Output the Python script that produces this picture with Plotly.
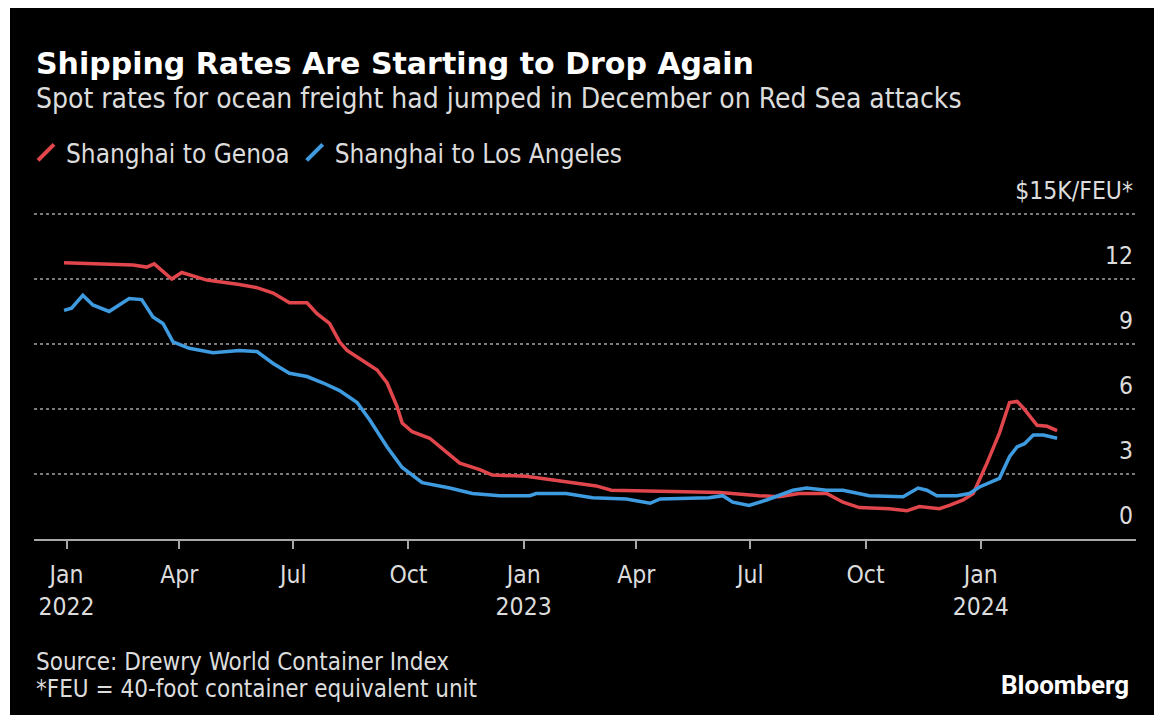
import plotly.graph_objects as go

# ---- data ($K per FEU) ----
genoa_dates = [
    "2021-12-30", "2022-02-23", "2022-03-06", "2022-03-12", "2022-03-26", "2022-04-03",
    "2022-04-23", "2022-05-19", "2022-06-02", "2022-06-15", "2022-06-28", "2022-07-12",
    "2022-07-20", "2022-07-30", "2022-08-07", "2022-08-13", "2022-08-29", "2022-09-06",
    "2022-09-14", "2022-09-22", "2022-09-26", "2022-10-04", "2022-10-18", "2022-10-26",
    "2022-11-05", "2022-11-11", "2022-11-27", "2022-12-07", "2023-01-03", "2023-01-30",
    "2023-02-28", "2023-03-12", "2023-04-20", "2023-06-07", "2023-07-08", "2023-07-24",
    "2023-08-09", "2023-08-31", "2023-09-13", "2023-09-26", "2023-10-20", "2023-11-03",
    "2023-11-13", "2023-11-29", "2023-12-07", "2023-12-18", "2023-12-26", "2024-01-06",
    "2024-01-16", "2024-01-24", "2024-01-30", "2024-02-04", "2024-02-15", "2024-02-23",
    "2024-03-02",
]
genoa_values = [
    12.75, 12.65, 12.55, 12.7, 12.0, 12.3,
    11.95, 11.75, 11.6, 11.35, 10.9, 10.9,
    10.4, 9.95, 9.1, 8.7, 8.1, 7.8,
    7.2, 6.1, 5.35, 4.95, 4.65, 4.25,
    3.8, 3.5, 3.2, 2.95, 2.9, 2.7,
    2.45, 2.25, 2.2, 2.15, 2.0, 1.95,
    2.1, 2.1, 1.7, 1.45, 1.4, 1.3,
    1.5, 1.4, 1.55, 1.8, 2.1, 3.5,
    4.9, 6.3, 6.35, 6.05, 5.25, 5.2,
    5.0,
]

la_dates = [
    "2021-12-30", "2022-01-05", "2022-01-14", "2022-01-22", "2022-02-04", "2022-02-20",
    "2022-03-02", "2022-03-11", "2022-03-19", "2022-03-27", "2022-04-09", "2022-04-28",
    "2022-05-19", "2022-06-02", "2022-06-15", "2022-06-28", "2022-07-12", "2022-07-25",
    "2022-08-07", "2022-08-21", "2022-08-31", "2022-09-14", "2022-09-26", "2022-10-12",
    "2022-11-03", "2022-11-21", "2022-12-13", "2023-01-06", "2023-01-11", "2023-02-04",
    "2023-02-25", "2023-03-24", "2023-04-12", "2023-04-20", "2023-05-29", "2023-06-09",
    "2023-06-17", "2023-06-30", "2023-07-14", "2023-08-04", "2023-08-15", "2023-08-31",
    "2023-09-13", "2023-09-26", "2023-10-04", "2023-10-31", "2023-11-12", "2023-11-19",
    "2023-11-27", "2023-12-13", "2023-12-23", "2023-12-31", "2024-01-08", "2024-01-16",
    "2024-01-24", "2024-01-30", "2024-02-05", "2024-02-12", "2024-02-20", "2024-03-02",
]
la_values = [
    10.55, 10.65, 11.25, 10.8, 10.5, 11.1,
    11.05, 10.25, 9.95, 9.1, 8.8, 8.6,
    8.7, 8.65, 8.1, 7.65, 7.5, 7.2,
    6.85, 6.3, 5.5, 4.25, 3.3, 2.6,
    2.35, 2.1, 2.0, 2.0, 2.1, 2.1,
    1.9, 1.85, 1.65, 1.85, 1.9, 2.0,
    1.7, 1.55, 1.8, 2.25, 2.35, 2.25,
    2.25, 2.1, 2.0, 1.95, 2.35, 2.25,
    2.0, 2.0, 2.1, 2.4, 2.6, 2.8,
    3.8, 4.25, 4.4, 4.8, 4.8, 4.65,
]

series_names = ["Shanghai to Genoa", "Shanghai to Los Angeles"]

x_tick_vals = ["2022-01-01", "2022-04-01", "2022-07-01", "2022-10-01", "2023-01-01",
               "2023-04-01", "2023-07-01", "2023-10-01", "2024-01-01"]
x_tick_text = ["Jan<br>2022", "Apr", "Jul", "Oct", "Jan<br>2023",
               "Apr", "Jul", "Oct", "Jan<br>2024"]
y_tick_vals = [0, 3, 6, 9, 12, 15]
y_tick_text = ["0", "3", "6", "9", "12", "$15K/FEU*"]

# ---- styling ----
RED = "#e0464b"
BLUE = "#3f9be0"
TEXT = "#dcdcdc"
FONT = "DejaVu Sans Condensed, DejaVu Sans, sans-serif"

W_FIG, H_FIG = 1154, 715
L, R, T, B = 34, 1136, 168, 539  # plot area in pixels
PW, PH = R - L, B - T
UNIT_PX = 65 / 3  # pixels per $1K in the reference
Y_MAX = PH / UNIT_PX


def px_x(x):
    return (x - L) / PW


def px_y(y):
    return (B - y) / PH


fig = go.Figure()
fig.add_trace(go.Scatter(x=genoa_dates, y=genoa_values, mode="lines",
                         line=dict(color=RED, width=3.5), showlegend=False,
                         name=series_names[0]))
fig.add_trace(go.Scatter(x=la_dates, y=la_values, mode="lines",
                         line=dict(color=BLUE, width=3.5), showlegend=False,
                         name=series_names[1]))
# legend entries with slanted-line icons
for name, col in zip(series_names, [RED, BLUE]):
    fig.add_trace(go.Scatter(x=[None], y=[None], mode="markers", name=name,
                             marker=dict(symbol="line-ne", size=16,
                                         line=dict(color=col, width=4))))

fig.update_layout(
    width=W_FIG, height=H_FIG,
    paper_bgcolor="#000000", plot_bgcolor="#000000",
    margin=dict(l=L, r=W_FIG - R, t=T, b=H_FIG - B, pad=0),
    font=dict(family=FONT, color=TEXT, size=22),
    showlegend=True,
    legend=dict(orientation="h", x=px_x(26), y=px_y(129), xanchor="left", yanchor="top",
                font=dict(size=26, color=TEXT, family=FONT), itemwidth=30,
                bgcolor="rgba(0,0,0,0)", tracegroupgap=0),
    xaxis=dict(type="date", range=["2021-12-06", "2024-05-04"],
               tickvals=x_tick_vals, ticktext=x_tick_text,
               showgrid=False, zeroline=False,
               showline=True, linecolor="#a8a8a8", linewidth=2,
               ticks="outside", ticklen=8, tickwidth=2, tickcolor="#a8a8a8",
               ticklabelstandoff=5,
               tickfont=dict(size=24.5, color=TEXT, family=FONT)),
    yaxis=dict(range=[0, Y_MAX], side="right", tickvals=y_tick_vals, ticktext=y_tick_text,
               ticklabelposition="inside", ticklabelshift=-24, ticks="",
               showgrid=True, gridcolor="#7a7a7a", griddash="dot", gridwidth=1.5,
               zeroline=False, showline=False,
               tickfont=dict(size=24.5, color=TEXT, family=FONT)),
)

annotations = [
    dict(text="<b>Shipping Rates Are Starting to Drop Again</b>", x=px_x(34), y=px_y(63),
         xanchor="left", yanchor="middle", showarrow=False,
         font=dict(size=30, color="#ffffff", family="DejaVu Sans, sans-serif")),
    dict(text="Spot rates for ocean freight had jumped in December on Red Sea attacks",
         x=px_x(34), y=px_y(98), xanchor="left", yanchor="middle", showarrow=False,
         font=dict(size=28, color=TEXT, family=FONT)),
    dict(text="Source: Drewry World Container Index",
         x=px_x(34), y=px_y(662), xanchor="left", yanchor="middle", align="left",
         showarrow=False, font=dict(size=24, color=TEXT, family=FONT)),
    dict(text="*FEU = 40-foot container equivalent unit",
         x=px_x(34), y=px_y(689), xanchor="left", yanchor="middle", align="left",
         showarrow=False, font=dict(size=24, color=TEXT, family=FONT)),
    dict(text="<b>Bloomberg</b>", x=px_x(1131), y=px_y(685), xanchor="right", yanchor="middle",
         showarrow=False, font=dict(size=26, color="#ffffff", family="Roboto, sans-serif")),
]
for a in annotations:
    a["xref"] = "paper"
    a["yref"] = "paper"
fig.update_layout(annotations=annotations)

# light frame strips on top and left edges of the image
fig.update_layout(shapes=[
    dict(type="rect", xref="paper", yref="paper", x0=px_x(0), x1=px_x(W_FIG),
         y0=px_y(0), y1=px_y(8), fillcolor="#ffffff", line=dict(width=0), layer="above"),
    dict(type="rect", xref="paper", yref="paper", x0=px_x(0), x1=px_x(10),
         y0=px_y(0), y1=px_y(H_FIG), fillcolor="#ffffff", line=dict(width=0), layer="above"),
])

fig.write_html("out.html")
